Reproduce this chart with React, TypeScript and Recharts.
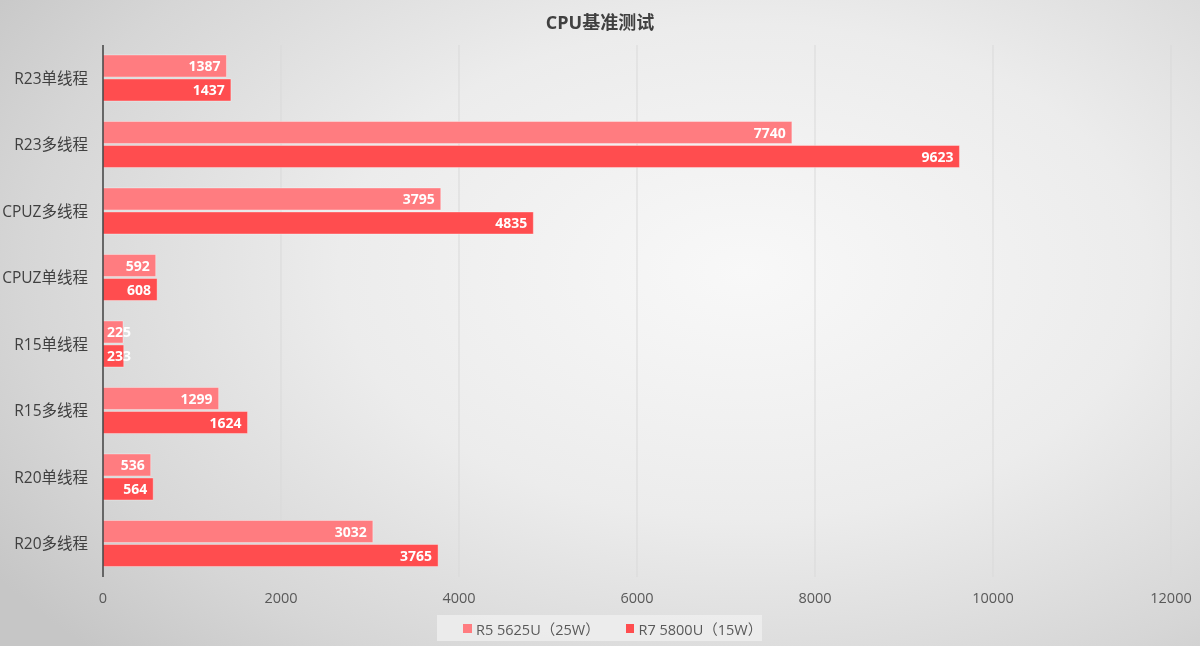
import React from "react"
import { BarChart, Bar, XAxis, YAxis, CartesianGrid, LabelList } from "recharts"

const categories = ["R23单线程", "R23多线程", "CPUZ多线程", "CPUZ单线程", "R15单线程", "R15多线程", "R20单线程", "R20多线程"]
const r5Scores = [1387, 7740, 3795, 592, 225, 1299, 536, 3032]
const r7Scores = [1437, 9623, 4835, 608, 233, 1624, 564, 3765]
const xTicks = [0, 2000, 4000, 6000, 8000, 10000, 12000]

const seriesNames = ["R5 5625U（25W）", "R7 5800U（15W）"]
const colors = ["#FF7C80", "#FF4D4F"]

const data = categories.map((c, i) => ({ name: c, r5: r5Scores[i], r7: r7Scores[i] }))

const FONT = "'Open Sans', 'Noto Sans CJK SC', sans-serif"

// value labels sit inside the bar end; short bars push the label past the end
const BarLabel = (props: any) => {
  const { x, y, width, height, value } = props
  const textW = String(value).length * 8.6
  const fits = width > textW + 10
  return (
    <text
      x={fits ? x + width - 6 : x + 4}
      y={y + height / 2}
      dy="0.36em"
      textAnchor={fits ? "end" : "start"}
      fill="#ffffff"
      fontSize={14}
      fontWeight={700}
      fontFamily={FONT}
    >
      {value}
    </text>
  )
}

export default function App() {
  return (
    <div style={{ position:"fixed", left:0, top:0, width:1200, height:646, background:"radial-gradient(ellipse 75% 85% at 62% 42%, #f8f8f8 0%, #ececec 45%, #d6d6d6 80%, #c6c6c6 100%)" }}>
      <div style={{ position:"absolute", top:8, width:1200, textAlign:"center", fontFamily:FONT, fontWeight:700, fontSize:18, color:"#404040" }}>
        CPU基准测试
      </div>
      <BarChart
        width={1200}
        height={646}
        data={data}
        layout="vertical"
        barCategoryGap="15%"
        barGap={2}
        margin={{ top:45, right:29, bottom:0, left:0 }}
      >
        <CartesianGrid horizontal={false} stroke="#d9d9d9" />
        <XAxis
          type="number"
          domain={[0, 12000]}
          ticks={xTicks}
          axisLine={false}
          tickLine={false}
          tickSize={0}
          tickMargin={16}
          height={69}
          tick={{ fontSize:14.5, fill:"#595959", fontFamily:FONT }}
        />
        <YAxis
          type="category"
          dataKey="name"
          width={103}
          axisLine={{ stroke:"#404040", strokeWidth:1.5 }}
          tickLine={false}
          tickSize={0}
          tickMargin={15}
          tick={{ fontSize:15.5, fill:"#404040", fontFamily:FONT }}
        />
        <Bar dataKey="r5" name={seriesNames[0]} fill={colors[0]} stroke="#ffffff" strokeOpacity={0.35} isAnimationActive={false}>
          <LabelList dataKey="r5" content={<BarLabel />} />
        </Bar>
        <Bar dataKey="r7" name={seriesNames[1]} fill={colors[1]} stroke="#ffffff" strokeOpacity={0.35} isAnimationActive={false}>
          <LabelList dataKey="r7" content={<BarLabel />} />
        </Bar>
      </BarChart>
      <div style={{ position:"absolute", left:437, top:615, width:325, height:26, boxSizing:"border-box", paddingLeft:26, display:"flex", alignItems:"center", gap:26, background:"rgba(240,240,240,0.75)", fontFamily:FONT, fontSize:14.5, color:"#595959" }}>
        {seriesNames.map((n, i) => (
          <div key={n} style={{ display:"flex", alignItems:"center", gap:4 }}>
            <div style={{ width:9, height:9, background:colors[i] }} />
            <span>{n}</span>
          </div>
        ))}
      </div>
    </div>
  )
}
